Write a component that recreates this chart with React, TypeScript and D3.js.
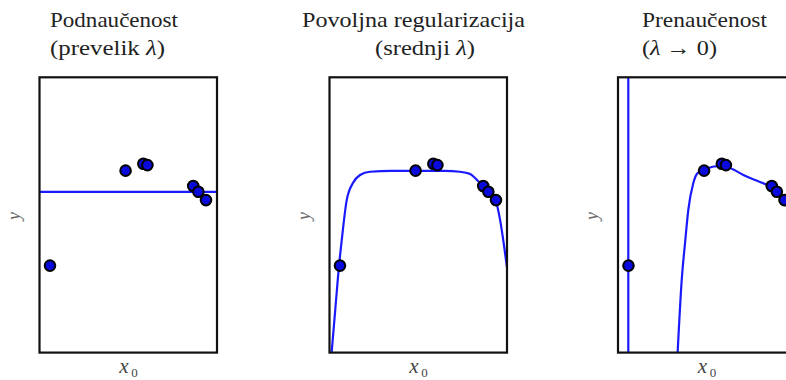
import React from "react";
import * as d3 from "d3";

// ---- data (normalized units: x 0..100 across the box, y 0..100 bottom to top) ----
const pointX = [5.9, 48.5, 58.5, 60.8, 86.6, 89.5, 93.8];
const pointY = [31.6, 66.1, 68.6, 68.1, 60.5, 58.4, 55.4];

// panel 1: underfit -> constant line
const underX = [0, 100];
const underY = [58.4, 58.4];

// panel 2: good fit
const goodX = [1.2, 3.3, 5.4, 6.9, 9.7, 13.2, 17.2, 22.8, 35, 50, 65, 73.5, 79.2, 84.8, 90, 93.6, 96.1, 98.3, 100.5];
const goodY = [0, 16, 31.8, 40.9, 55.4, 61.6, 64.5, 65.7, 66, 66, 66, 65.7, 64.9, 61.6, 58.7, 55.4, 48.2, 39, 28.5];

// panel 3: overfit -> vertical branch + wiggly curve
const overVertX = [5.8, 5.8];
const overVertY = [-2, 102];
const overX = [33.6, 35.9, 37.8, 39.6, 42.4, 44.7, 48.6, 54, 59.9, 65, 70.6, 78, 85.6, 89.5, 93.8, 97, 100.5];
const overY = [0, 26.4, 40, 51.8, 61.5, 65.1, 66.3, 67.6, 67.8, 66.5, 64.5, 62.5, 60.3, 58.4, 55.4, 50, 40];

const titles1 = ["Podnaučenost", "Povoljna regularizacija", "Prenaučenost"];
const titles2pre = ["(prevelik ", "(srednji ", "("];
const titles2sym = ["λ", "λ", "λ"];
const titles2post = [")", ")", " → 0)"];

const W = 786;
const H = 380;

type PanelProps = {
  idx: number;
  left: number;
  fits: { xs: number[]; ys: number[] }[];
  t1x: number;
  t1len: number;
  t2x: number;
  t2len: number;
};

const BOX_W = 177.5;
const BOX_TOP = 77.3;
const BOX_BOTTOM = 352.6;
const BLUE = "#1a1aff";
const FONT = "'Liberation Serif', 'DejaVu Serif', serif";

function Panel({ idx, left, fits, t1x, t1len, t2x, t2len }: PanelProps) {
  const x = d3.scaleLinear().domain([0, 100]).range([left, left + BOX_W]);
  const y = d3.scaleLinear().domain([0, 100]).range([BOX_BOTTOM, BOX_TOP]);
  const line = d3
    .line<[number, number]>()
    .x((d) => x(d[0]))
    .y((d) => y(d[1]))
    .curve(d3.curveMonotoneX);
  const straight = d3
    .line<[number, number]>()
    .x((d) => x(d[0]))
    .y((d) => y(d[1]));
  const clipId = `clip${idx}`;
  const tStyle = { fontFamily: FONT };
  return (
    <g>
      <defs>
        <clipPath id={clipId}>
          <rect x={left} y={BOX_TOP} width={BOX_W} height={BOX_BOTTOM - BOX_TOP} />
        </clipPath>
      </defs>
      <text x={t1x} y={27} style={tStyle} fontSize={21} fill="#222" textLength={t1len} lengthAdjust="spacingAndGlyphs">
        {titles1[idx]}
      </text>
      <text x={t2x} y={55} style={tStyle} fontSize={21} fill="#222" textLength={t2len} lengthAdjust="spacingAndGlyphs">
        {titles2pre[idx]}
        <tspan fontStyle="italic">{titles2sym[idx]}</tspan>
        {titles2post[idx]}
      </text>
      <g clipPath={`url(#${clipId})`}>
        {fits.map((f, i) => {
          const pts = f.xs.map((v, j) => [v, f.ys[j]] as [number, number]);
          const d = f.xs[0] === f.xs[1] ? straight(pts) : line(pts);
          return <path key={i} d={d || ""} fill="none" stroke={BLUE} strokeWidth={2.2} />;
        })}
      </g>
      {pointX.map((px, i) => (
        <circle key={i} cx={x(px)} cy={y(pointY[i])} r={5.3} fill="#0a0adc" stroke="#000" strokeWidth={2} />
      ))}
      <rect
        x={left}
        y={BOX_TOP}
        width={BOX_W}
        height={BOX_BOTTOM - BOX_TOP}
        fill="none"
        stroke="#111"
        strokeWidth={2.2}
      />
      <text
        transform={`translate(${left - 20},${216}) rotate(-90)`}
        textAnchor="middle"
        style={tStyle}
        fontStyle="italic"
        fontSize={18}
        fill="#666"
      >
        y
      </text>
      <text x={x(50) - 9} y={373} style={tStyle} fontStyle="italic" fontSize={21} fill="#444">
        x
      </text>
      <text x={x(50) + 3} y={376.5} style={tStyle} fontSize={13} fill="#444">
        0
      </text>
    </g>
  );
}

export default function App() {
  return (
    <svg
      width={W}
      height={H}
      style={{ position: "absolute", left: 0, top: 0, background: "#fff" }}
    >
      <rect x={0} y={0} width={W} height={H} fill="#fff" />
      <Panel
        idx={0}
        left={39.5}
        fits={[{ xs: underX, ys: underY }]}
        t1x={50}
        t1len={128}
        t2x={50}
        t2len={115}
      />
      <Panel
        idx={1}
        left={329.5}
        fits={[{ xs: goodX, ys: goodY }]}
        t1x={302}
        t1len={223}
        t2x={375}
        t2len={100}
      />
      <Panel
        idx={2}
        left={618}
        fits={[
          { xs: overVertX, ys: overVertY },
          { xs: overX, ys: overY },
        ]}
        t1x={642}
        t1len={125}
        t2x={642}
        t2len={75}
      />
    </svg>
  );
}
